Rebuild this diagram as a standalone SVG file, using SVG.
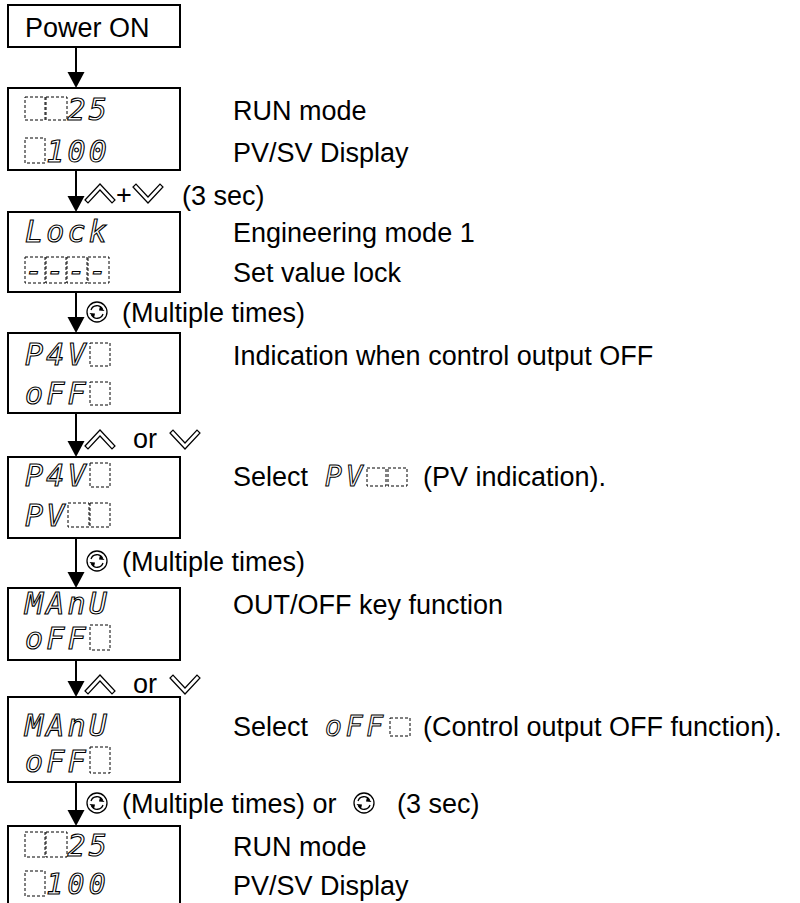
<svg xmlns="http://www.w3.org/2000/svg" width="800" height="903" viewBox="0 0 800 903">
<style>
  .box{fill:#fff;stroke:#000;stroke-width:2}
  .t{font-family:"Liberation Sans",Arial,sans-serif;font-size:27px;fill:#000}
  .seg{font-family:"DejaVu Sans Mono",monospace;font-style:italic;font-size:30px;letter-spacing:3.2px;fill:#fff;stroke:#000;stroke-width:1.1}
  .segs{font-family:"DejaVu Sans Mono",monospace;font-style:italic;font-size:28px;letter-spacing:3.8px;fill:#fff;stroke:#000;stroke-width:1}
  .dash{fill:none;stroke:#000;stroke-width:1;stroke-dasharray:3 2}
  .ln{stroke:#000;stroke-width:2;fill:none}
  .key{fill:#fff;stroke:#000;stroke-width:1.2;stroke-linejoin:miter}
  .rot{fill:none;stroke:#000;stroke-width:1.3}
</style>
<defs>
  <g id="up"><polygon class="key" points="0,16 15,0 30,16 27,19 15,6 3,19"/></g>
  <g id="down"><polygon class="key" points="0,3 15,19 30,3 27,0 15,13 3,0"/></g>
  <g id="rot">
    <circle class="rot" r="10"/>
    <path class="rot" d="M-6,-2 A6.3 6.3 0 0 1 5.5,-3"/>
    <path class="rot" d="M6,2 A6.3 6.3 0 0 1 -5.5,3"/>
    <polygon points="3,-6 7.5,-1 2,-1.5" fill="#000"/>
    <polygon points="-3,6 -7.5,1 -2,1.5" fill="#000"/>
  </g>
</defs>
<rect width="800" height="903" fill="#fff"/>

<g id="power-on">
  <rect class="box" x="8" y="5" width="172" height="42"/>
  <text class="t" x="25" y="37">Power ON</text>
</g>

<g id="run-mode-1">
  <rect class="box" x="8" y="88" width="172" height="82"/>
  <rect class="dash" x="25" y="97" width="20" height="23"/>
  <rect class="dash" x="46" y="97" width="21" height="23"/>
  <text class="seg" x="67.5" y="120">25</text>
  <rect class="dash" x="25" y="138" width="20" height="25"/>
  <text class="seg" x="46.25" y="162">100</text>
  <text class="t" x="233" y="120">RUN mode</text>
  <text class="t" x="233" y="162">PV/SV Display</text>
</g>

<g id="lock">
  <rect class="box" x="8" y="212" width="172" height="80"/>
  <text class="seg" x="25" y="242">Lock</text>
  <rect class="dash" x="25" y="257" width="20" height="26"/>
  <rect class="dash" x="46" y="257" width="20" height="26"/>
  <rect class="dash" x="67" y="257" width="20" height="26"/>
  <rect class="dash" x="88" y="257" width="21" height="26"/>
  <text class="seg" x="25" y="281">----</text>
  <text class="t" x="233" y="242">Engineering mode 1</text>
  <text class="t" x="233" y="282">Set value lock</text>
</g>

<g id="pvd-off">
  <rect class="box" x="8" y="333" width="172" height="80"/>
  <text class="seg" x="25" y="365">P4V</text>
  <rect class="dash" x="90" y="343" width="20" height="23"/>
  <text class="seg" x="25" y="404">oFF</text>
  <rect class="dash" x="90" y="382" width="20" height="23"/>
  <text class="t" x="233" y="365">Indication when control output OFF</text>
</g>

<g id="pvd-pv">
  <rect class="box" x="8" y="457" width="172" height="81"/>
  <text class="seg" x="25" y="486">P4V</text>
  <rect class="dash" x="90" y="463" width="20" height="24"/>
  <text class="seg" x="25" y="526">PV</text>
  <rect class="dash" x="68" y="503" width="21" height="24"/>
  <rect class="dash" x="90" y="503" width="20" height="24"/>
  <text class="t" x="233" y="486">Select</text>
  <text class="segs" x="325" y="486">PV</text>
  <rect class="dash" x="367" y="468" width="19" height="18"/>
  <rect class="dash" x="388" y="468" width="19" height="18"/>
  <text class="t" x="423" y="486">(PV indication).</text>
</g>

<g id="manu-off-1">
  <rect class="box" x="8" y="588" width="172" height="72"/>
  <text class="seg" x="25" y="614">MAnU</text>
  <text class="seg" x="25" y="649">oFF</text>
  <rect class="dash" x="90" y="625" width="20" height="25"/>
  <text class="t" x="233" y="614">OUT/OFF key function</text>
</g>

<g id="manu-off-2">
  <rect class="box" x="8" y="697" width="172" height="85"/>
  <text class="seg" x="25" y="736">MAnU</text>
  <text class="seg" x="25" y="772">oFF</text>
  <rect class="dash" x="90" y="747" width="20" height="26"/>
  <text class="t" x="233" y="736">Select</text>
  <text class="segs" x="325" y="736">oFF</text>
  <rect class="dash" x="390" y="718" width="20" height="18"/>
  <text class="t" x="423" y="736">(Control output OFF function).</text>
</g>

<g id="run-mode-2">
  <rect class="box" x="8" y="826" width="172" height="82"/>
  <rect class="dash" x="25" y="832" width="20" height="25"/>
  <rect class="dash" x="46" y="832" width="21" height="25"/>
  <text class="seg" x="67.5" y="856">25</text>
  <rect class="dash" x="25" y="871" width="20" height="25"/>
  <text class="seg" x="46.25" y="894" style="font-size:28px;letter-spacing:4.4px">100</text>
  <text class="t" x="233" y="856">RUN mode</text>
  <text class="t" x="233" y="895">PV/SV Display</text>
</g>

<g id="connectors">
  <line class="ln" x1="76" y1="47" x2="76" y2="73"/>
  <polygon points="67.5,72 84.5,72 76,88"/>
  <line class="ln" x1="76" y1="170" x2="76" y2="197"/>
  <polygon points="67.5,196 84.5,196 76,212"/>
  <line class="ln" x1="76" y1="292" x2="76" y2="318"/>
  <polygon points="67.5,317 84.5,317 76,333"/>
  <line class="ln" x1="76" y1="413" x2="76" y2="442"/>
  <polygon points="67.5,441 84.5,441 76,457"/>
  <line class="ln" x1="76" y1="538" x2="76" y2="573"/>
  <polygon points="67.5,572 84.5,572 76,588"/>
  <line class="ln" x1="76" y1="660" x2="76" y2="682"/>
  <polygon points="67.5,681 84.5,681 76,697"/>
  <line class="ln" x1="76" y1="782" x2="76" y2="811"/>
  <polygon points="67.5,810 84.5,810 76,826"/>

  <g id="label-1">
    <use href="#up" x="85" y="184"/>
    <text class="t" x="116" y="204">+</text>
    <use href="#down" x="133" y="184"/>
    <text class="t" x="182" y="205">(3 sec)</text>
  </g>
  <g id="label-2">
    <use href="#rot" x="97" y="312"/>
    <text class="t" x="122" y="322">(Multiple times)</text>
  </g>
  <g id="label-3">
    <use href="#up" x="85" y="430"/>
    <text class="t" x="133" y="448">or</text>
    <use href="#down" x="170" y="430"/>
  </g>
  <g id="label-4">
    <use href="#rot" x="97" y="561"/>
    <text class="t" x="122" y="571">(Multiple times)</text>
  </g>
  <g id="label-5">
    <use href="#up" x="85" y="675"/>
    <text class="t" x="133" y="693">or</text>
    <use href="#down" x="170" y="675"/>
  </g>
  <g id="label-6">
    <use href="#rot" x="97" y="803"/>
    <text class="t" x="122" y="813">(Multiple times) or</text>
    <use href="#rot" x="364" y="803"/>
    <text class="t" x="397" y="813">(3 sec)</text>
  </g>
</g>
</svg>
